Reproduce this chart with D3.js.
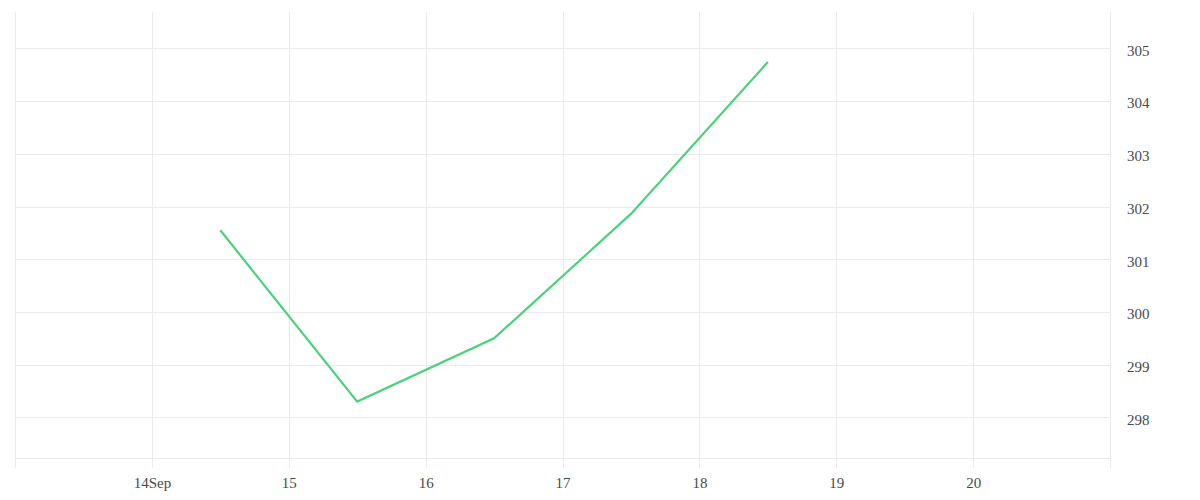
<!doctype html>
<html lang="en">
<head>
  <meta charset="utf-8">
  <title>Chart</title>
  <style>
    body { margin: 0; background: #fff; }
    text { font-family: "Liberation Serif", serif; }
  </style>
</head>
<body>
<svg id="chart" width="1200" height="500"></svg>

<script src="https://d3js.org/d3.v7.min.js"></script>
<script type="text/javascript">
// points sit at midday of each date
const dates = ['2023-09-14T12:00', '2023-09-15T12:00', '2023-09-16T12:00', '2023-09-17T12:00', '2023-09-18T12:00'];
const values = [301.55, 298.30, 299.50, 301.86, 304.74];
const xTickLabels = ['14Sep', '15', '16', '17', '18', '19', '20'];
const yTicks = [298, 299, 300, 301, 302, 303, 304, 305];

const parseTime = d3.timeParse('%Y-%m-%dT%H:%M');
const data = dates.map((d, i) => ({ date: parseTime(d), value: values[i] }));

const chart = d3.select('#chart');
const plot = { left: 15, right: 1110, top: 12, bottom: 458 };

const x = d3.scaleTime()
  .domain([new Date(2023, 8, 13), new Date(2023, 8, 21)])
  .range([plot.left, plot.right]);
const y = d3.scaleLinear()
  .domain([297.23, 305.69])
  .range([plot.bottom, plot.top]);

const grid = '#ebebeb';

// vertical grid, one per day incl. both edges
const days = d3.timeDay.range(new Date(2023, 8, 13), new Date(2023, 8, 22));
chart.append('g').selectAll('line')
  .data(days)
  .join('line')
  .attr('x1', d => Math.round(x(d)) + 0.5)
  .attr('x2', d => Math.round(x(d)) + 0.5)
  .attr('y1', plot.top)
  .attr('y2', plot.bottom + 10)
  .attr('stroke', grid);

// horizontal grid
chart.append('g').selectAll('line')
  .data(yTicks)
  .join('line')
  .attr('x1', plot.left)
  .attr('x2', plot.right)
  .attr('y1', d => Math.round(y(d)) + 0.5)
  .attr('y2', d => Math.round(y(d)) + 0.5)
  .attr('stroke', grid);
chart.append('line')
  .attr('x1', plot.left).attr('x2', plot.right)
  .attr('y1', plot.bottom + 0.5).attr('y2', plot.bottom + 0.5)
  .attr('stroke', grid);

// x axis labels
const tickDays = d3.timeDay.range(new Date(2023, 8, 14), new Date(2023, 8, 21));
const xAxis = d3.axisBottom(x)
  .tickValues(tickDays)
  .tickFormat((d, i) => xTickLabels[i])
  .tickSize(0)
  .tickPadding(19);
const gx = chart.append('g')
  .attr('transform', `translate(0 ${plot.bottom})`)
  .call(xAxis);
gx.select('.domain').remove();
gx.selectAll('text')
  .attr('fill', '#4a4a4a')
  .style('font-size', '15px')
  .style('font-family', '"Liberation Serif", serif');

// y axis on the right
const yAxis = d3.axisRight(y)
  .tickValues(yTicks)
  .tickFormat(d3.format('d'))
  .tickSize(0)
  .tickPadding(17);
const gy = chart.append('g')
  .attr('transform', `translate(${plot.right} 2)`)
  .call(yAxis);
gy.select('.domain').remove();
gy.selectAll('text')
  .attr('fill', '#4a4a4a')
  .style('font-size', '15px')
  .style('font-family', '"Liberation Serif", serif');

const line = d3.line()
  .x(d => x(d.date))
  .y(d => y(d.value));

chart.append('path')
  .datum(data)
  .attr('fill', 'none')
  .attr('stroke', '#4cd27a')
  .attr('stroke-width', 2.2)
  .attr('d', line);
</script>
</body>
</html>
